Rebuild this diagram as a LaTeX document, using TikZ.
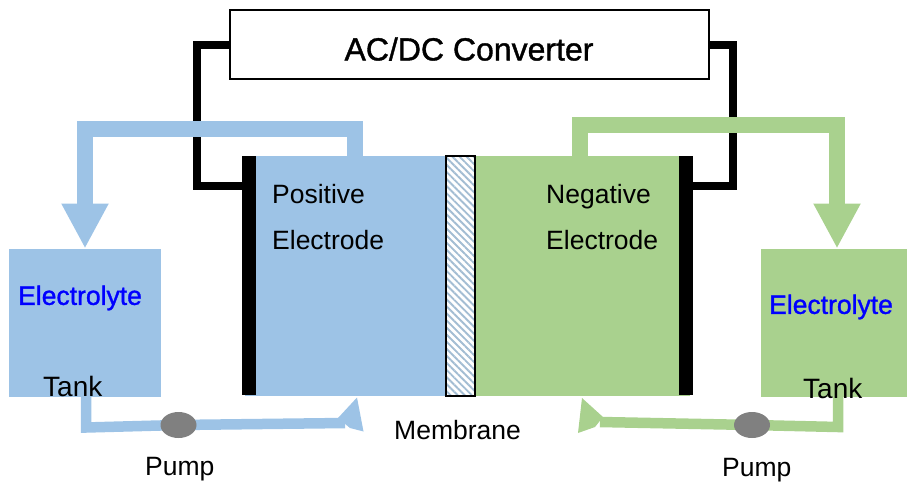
\documentclass[tikz,border=0pt]{standalone}
\usepackage{fontspec}
\setmainfont{Liberation Sans}
\newfontfamily\fatfont[FakeBold=1.2]{Liberation Sans}
\usepackage{xcolor}
\usetikzlibrary{arrows.meta,patterns.meta,shapes.geometric}
\definecolor{cellblue}{HTML}{9DC3E6}
\definecolor{cellgreen}{HTML}{A9D18E}
\definecolor{pumpgray}{HTML}{808080}
\definecolor{hatchblue}{HTML}{A3BDD3}
\definecolor{titleblue}{HTML}{0000FF}

\begin{document}
\begin{tikzpicture}[x=1pt,y=-1pt,
    box/.style={rectangle, inner sep=0pt, outer sep=0pt},
    wire/.style={draw=black, line width=8pt, miter limit=10},
    bigpipe/.style={line width=16pt, miter limit=10, -{Triangle[length=45pt,width=44pt]}},
    smallpipe/.style={line width=10.5pt, miter limit=10},
    pump/.style={ellipse, inner sep=0pt, outer sep=0pt, fill=pumpgray, minimum width=36pt, minimum height=26pt},
    txt/.style={inner sep=0pt, align=left, font=\fontsize{26.5}{46}\selectfont},
    tanktxt/.style={inner sep=0pt, font=\fontsize{28}{30}\selectfont},
    fat/.style={inner sep=0pt, text=titleblue, font=\fatfont\fontsize{26.5}{30}\selectfont}]
        \useasboundingbox (0,0) rectangle (907,482);

        % Convertitore
        \node (conv) at (469.5,44.5) [box, draw=black, line width=2pt, fill=white, minimum width=479pt, minimum height=69pt] {};
        \node (convName) at (469,49) [inner sep=0pt, font=\fatfont\fontsize{32}{36}\selectfont] {AC/DC Converter};

        % Serbatoi
        \node (posTank) at (85,323) [box, fill=cellblue, minimum width=152pt, minimum height=148pt] {};
        \node (negTank) at (834,323) [box, fill=cellgreen, minimum width=146pt, minimum height=148pt] {};

        % Cella
        \node (posCell) at (345.5,276) [box, fill=cellblue, minimum width=201pt, minimum height=240pt] {};
        \node (negCell) at (582.5,276) [box, fill=cellgreen, minimum width=215pt, minimum height=240pt] {};
        \node (posBar) at (249,275.5) [box, fill=black, minimum width=14pt, minimum height=239pt] {};
        \node (negBar) at (686,275.5) [box, fill=black, minimum width=14pt, minimum height=239pt] {};
        \node (memb) at (460.5,276) [box, fill=white, minimum width=29pt, minimum height=240pt] {};
        \node (membHatch) at (memb.center) [box, pattern={Lines[angle=-45,distance=5pt,line width=1.9pt]}, pattern color=hatchblue, minimum width=29pt, minimum height=240pt] {};
        \draw [black, line width=2.5pt] (memb.north west) rectangle (memb.south east);

        % Pompe
        \coordinate (posPump) at (178.5,425);
        \coordinate (negPump) at (752,425);

        % Punti di passaggio
        \coordinate (wireL) at (197,186);
        \coordinate (wireR) at (733,186);
        \coordinate (posOut) at (355,156);
        \coordinate (posTurn) at (85,129);
        \coordinate (posIn) at (85,248.5);
        \coordinate (negOut) at (580,156);
        \coordinate (negTurn) at (837,125);
        \coordinate (negIn) at (837,248.5);
        \coordinate (posBack) at (86,397);
        \coordinate (posBend) at (86,427.5);
        \coordinate (posEnd) at (345,423);
        \coordinate (negBack) at (838,397);
        \coordinate (negBend) at (838,427);
        \coordinate (negEnd) at (600,422);
        \coordinate (posHeadA) at (357,397.5);
        \coordinate (posHeadB) at (338,418);
        \coordinate (posHeadC) at (350,428);
        \coordinate (posHeadD) at (363.5,431.5);
        \coordinate (negHeadA) at (582,398);
        \coordinate (negHeadB) at (603,417);
        \coordinate (negHeadC) at (595,427);
        \coordinate (negHeadD) at (578,433);

        % Collegamenti
        \draw [wire] (conv.west) -| (wireL) -- (wireL -| posBar.west);
        \draw [wire] (conv.east) -| (wireR) -- (wireR -| negBar.east);
        \draw [bigpipe, cellblue] (posOut) |- (posTurn) -- (posIn);
        \draw [bigpipe, cellgreen] (negOut) |- (negTurn) -- (negIn);
        \draw [smallpipe, cellblue] (posBack) -- (posBend) -- (posPump) -- (posEnd);
        \draw [smallpipe, cellgreen] (negBack) -- (negBend) -- (negPump) -- (negEnd);
        \fill [cellblue] (posHeadA) -- (posHeadB) -- (posHeadC) -- (posHeadD) -- cycle;
        \fill [cellgreen] (negHeadA) -- (negHeadB) -- (negHeadC) -- (negHeadD) -- cycle;
        \node (posPumpBody) at (posPump) [pump] {};
        \node (negPumpBody) at (negPump) [pump] {};

        % Etichette
        \node (posLabel) at (272,217) [txt, anchor=west] {Positive\\Electrode};
        \node (negLabel) at (546,217) [txt, anchor=west] {Negative\\Electrode};
        \node (posFluid) at (18,298) [fat, anchor=west] {Electrolyte};
        \node (negFluid) at (769,307) [fat, anchor=west] {Electrolyte};
        \node (posName) at (43,386) [tanktxt, anchor=west] {Tank};
        \node (negName) at (803,388) [tanktxt, anchor=west] {Tank};
        \node (membName) at (394,430) [txt, anchor=west] {Membrane};
        \node (posPumpName) at (145,469.5) [txt, anchor=west] {Pump};
        \node (negPumpName) at (722,470) [txt, anchor=west] {Pump};
    \end{tikzpicture}
\end{document}
